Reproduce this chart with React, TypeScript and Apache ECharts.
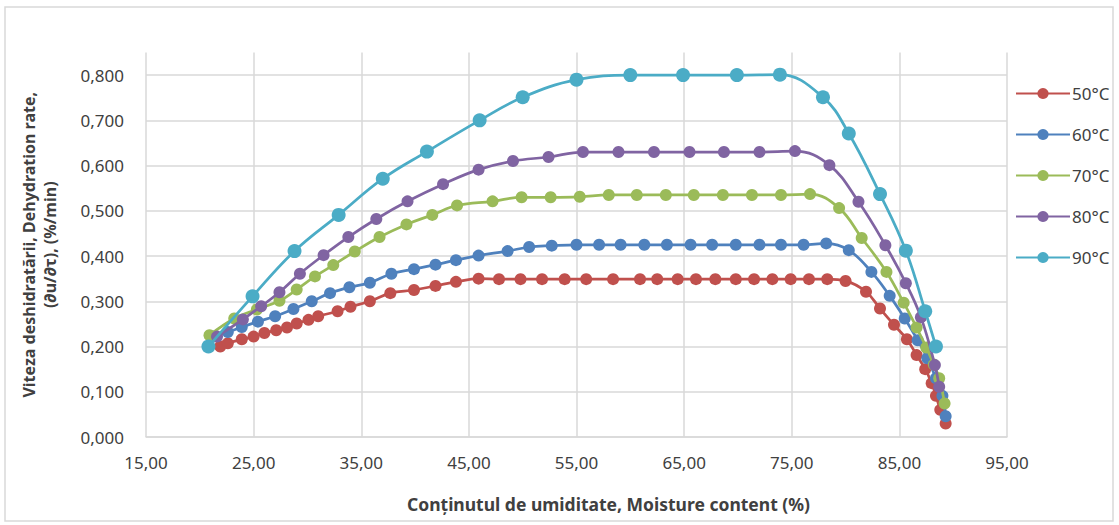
import React, { useEffect, useRef } from "react";
import * as echarts from "echarts";

const seriesNames = ["50°C", "60°C", "70°C", "80°C", "90°C"];
const seriesColors = ["#C0504D", "#4F81BD", "#9BBB59", "#8064A2", "#4BACC6"];

const s50: [number, number][] = [
  [21.9, 0.2], [22.6, 0.207], [23.9, 0.216], [25.0, 0.222], [26.0, 0.23], [27.1, 0.236],
  [28.1, 0.242], [29.0, 0.251], [30.1, 0.259], [31.0, 0.267], [32.8, 0.278], [34.0, 0.288],
  [35.8, 0.3], [37.7, 0.318], [39.9, 0.325], [41.9, 0.334], [43.8, 0.343], [45.9, 0.35],
  [47.8, 0.349], [49.8, 0.349], [51.8, 0.349], [53.9, 0.349], [55.9, 0.349], [58.4, 0.349],
  [60.9, 0.349], [62.5, 0.349], [64.4, 0.349], [66.1, 0.349], [67.9, 0.349], [69.8, 0.349],
  [71.5, 0.349], [73.2, 0.349], [74.9, 0.349], [76.6, 0.349], [78.3, 0.349], [80.0, 0.345],
  [81.9, 0.321], [83.2, 0.284], [84.5, 0.248], [85.7, 0.216], [86.6, 0.181], [87.4, 0.15],
  [88.0, 0.119], [88.4, 0.091], [88.8, 0.06], [89.3, 0.03],
];

const s60: [number, number][] = [
  [21.3, 0.222], [22.6, 0.232], [23.9, 0.243], [25.4, 0.255], [27.0, 0.267], [28.7, 0.283],
  [30.4, 0.3], [32.1, 0.318], [33.9, 0.331], [35.8, 0.341], [37.8, 0.361], [39.9, 0.371],
  [41.9, 0.381], [43.8, 0.391], [45.9, 0.401], [48.6, 0.411], [50.6, 0.42], [52.7, 0.423],
  [55.0, 0.425], [57.1, 0.425], [59.1, 0.425], [61.3, 0.425], [63.4, 0.425], [65.6, 0.425],
  [67.6, 0.425], [69.8, 0.425], [72.0, 0.425], [74.0, 0.425], [76.1, 0.425], [78.2, 0.428],
  [80.3, 0.413], [82.4, 0.365], [84.1, 0.312], [85.5, 0.262], [86.7, 0.214], [87.6, 0.174],
  [88.4, 0.13], [89.0, 0.091], [89.3, 0.046],
];

const s70: [number, number][] = [
  [20.9, 0.225], [23.2, 0.262], [25.3, 0.282], [27.4, 0.301], [29.0, 0.326], [30.7, 0.355],
  [32.4, 0.38], [34.4, 0.41], [36.7, 0.442], [39.2, 0.47], [41.6, 0.491], [43.9, 0.512],
  [47.2, 0.521], [49.9, 0.53], [52.6, 0.53], [55.3, 0.531], [58.0, 0.535], [60.6, 0.535],
  [63.3, 0.535], [65.9, 0.535], [68.6, 0.535], [71.3, 0.535], [74.0, 0.535], [76.7, 0.537],
  [79.4, 0.506], [81.5, 0.44], [83.8, 0.365], [85.4, 0.297], [86.6, 0.242], [87.5, 0.198],
  [88.2, 0.16], [88.7, 0.13], [89.2, 0.074],
];

const s80: [number, number][] = [
  [21.6, 0.222], [24.0, 0.26], [25.7, 0.289], [27.4, 0.32], [29.3, 0.361], [31.5, 0.402],
  [33.8, 0.442], [36.4, 0.482], [39.3, 0.521], [42.6, 0.559], [45.9, 0.591], [49.1, 0.61],
  [52.4, 0.619], [55.6, 0.63], [58.9, 0.63], [62.2, 0.63], [65.5, 0.63], [68.7, 0.63],
  [72.0, 0.63], [75.3, 0.632], [78.5, 0.601], [81.2, 0.52], [83.7, 0.424], [85.6, 0.34],
  [87.0, 0.265], [88.3, 0.159], [88.7, 0.111],
];

const s90: [number, number][] = [
  [20.8, 0.2], [24.9, 0.311], [28.8, 0.411], [32.9, 0.491], [37.0, 0.571], [41.1, 0.631],
  [46.0, 0.7], [50.0, 0.751], [55.0, 0.79], [60.0, 0.8], [64.9, 0.8], [69.9, 0.8],
  [73.9, 0.801], [77.9, 0.751], [80.3, 0.671], [83.2, 0.537], [85.6, 0.412], [87.4, 0.278],
  [88.4, 0.2],
];

const allSeries = [s50, s60, s70, s80, s90];
const symbolSizes = [12, 12, 12, 12, 14];

const xTitle = "Conținutul de umiditate, Moisture content (%)";
const yTitle = "Viteza deshidratării, Dehydration rate,\n(∂u/∂τ), (%/min)";

const FONT = "'Noto Sans', 'Open Sans', sans-serif";
const TXT = "#404040";
const GRID = "#d9d9d9";

export default function App() {
  const ref = useRef<HTMLDivElement>(null);
  useEffect(() => {
    if (!ref.current) return;
    const chart = echarts.init(ref.current, null, { renderer: "svg" });
    chart.setOption({
      animation: false,
      backgroundColor: "#ffffff",
      textStyle: { fontFamily: FONT },
      graphic: [
        {
          type: "rect",
          shape: { x: 5, y: 7, width: 1108, height: 514 },
          style: { fill: "none", stroke: GRID, lineWidth: 1.5 },
          silent: true,
        },
      ],
      grid: { left: 146, right: 112, top: 52.5, bottom: 88, containLabel: false },
      legend: {
        orient: "vertical",
        left: 1010,
        top: 80,
        itemWidth: 54,
        itemHeight: 14,
        itemGap: 24,
        textStyle: { fontFamily: FONT, fontSize: 17, color: TXT, padding: [0, 0, 0, -3] },
        data: seriesNames,
      },
      xAxis: {
        type: "value",
        min: 15,
        max: 95,
        interval: 10,
        name: xTitle,
        nameLocation: "middle",
        nameGap: 58,
        nameTextStyle: {
          fontFamily: FONT,
          fontSize: 17.5,
          fontWeight: "bold",
          color: TXT,
          padding: [0, 0, 0, 64],
        },
        axisLine: { show: true, lineStyle: { color: GRID, width: 1.5 } },
        axisTick: { show: false },
        axisLabel: {
          fontFamily: FONT,
          fontSize: 17,
          color: TXT,
          margin: 17,
          formatter: (v: number) => v.toFixed(2).replace(".", ","),
        },
        splitLine: { show: true, lineStyle: { color: GRID, width: 1.5 } },
      },
      yAxis: {
        type: "value",
        min: 0,
        max: 0.85,
        interval: 0.1,
        name: yTitle,
        nameLocation: "middle",
        nameRotate: 90,
        nameGap: 86,
        nameTextStyle: {
          fontFamily: FONT,
          fontSize: 16,
          fontWeight: "bold",
          color: TXT,
          lineHeight: 21,
          align: "center",
        },
        axisLine: { show: false },
        axisTick: { show: false },
        axisLabel: {
          fontFamily: FONT,
          fontSize: 17,
          color: TXT,
          margin: 22,
          showMaxLabel: false,
          formatter: (v: number) => (v > 0.81 ? "" : v.toFixed(3).replace(".", ",")),
        },
        splitLine: { show: true, showMaxLine: false, lineStyle: { color: GRID, width: 1.5 } },
      },
      series: allSeries.map((data, i) => ({
        name: seriesNames[i],
        type: "line",
        data,
        smooth: 0.4,
        symbol: "circle",
        symbolSize: symbolSizes[i],
        showSymbol: true,
        lineStyle: { color: seriesColors[i], width: 2.75 },
        itemStyle: { color: seriesColors[i], borderColor: seriesColors[i], borderWidth: 0 },
        emphasis: { disabled: true },
        z: 2 + i,
      })),
    });
    return () => chart.dispose();
  }, []);
  return (
    <div
      ref={ref}
      style={{ position: "fixed", left: 0, top: 0, width: 1119, height: 525, background: "#fff" }}
    />
  );
}
